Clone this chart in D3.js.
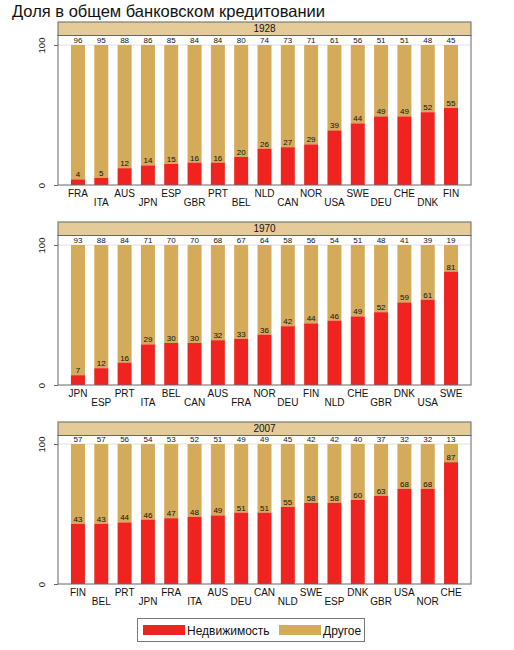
<!DOCTYPE html>
<html><head><meta charset="utf-8">
<script src="https://cdn.jsdelivr.net/npm/d3@7"></script>
<style>body{margin:0;background:#fff;} svg{display:block;font-family:"Liberation Sans",Arial,Helvetica,sans-serif;}</style>
</head><body>
<script>
const years = ["1928", "1970", "2007"];
const countries1928 = ["FRA","ITA","AUS","JPN","ESP","GBR","PRT","BEL","NLD","CAN","NOR","USA","SWE","DEU","CHE","DNK","FIN"];
const realEstate1928 = [4,5,12,14,15,16,16,20,26,27,29,39,44,49,49,52,55];
const other1928 = [96,95,88,86,85,84,84,80,74,73,71,61,56,51,51,48,45];
const countries1970 = ["JPN","ESP","PRT","ITA","BEL","CAN","AUS","FRA","NOR","DEU","FIN","NLD","CHE","GBR","DNK","USA","SWE"];
const realEstate1970 = [7,12,16,29,30,30,32,33,36,42,44,46,49,52,59,61,81];
const other1970 = [93,88,84,71,70,70,68,67,64,58,56,54,51,48,41,39,19];
const countries2007 = ["FIN","BEL","PRT","JPN","FRA","ITA","AUS","DEU","CAN","NLD","SWE","ESP","DNK","GBR","USA","NOR","CHE"];
const realEstate2007 = [43,43,44,46,47,48,49,51,51,55,58,58,60,63,68,68,87];
const other2007 = [57,57,56,54,53,52,51,49,49,45,42,42,40,37,32,32,13];
const yTicks = [0, 100];
const seriesNames = ["Недвижимость", "Другое"];
const title = "Доля в общем банковском кредитовании";

const panels = [
  {year: years[0], c: countries1928, re: realEstate1928, ot: other1928},
  {year: years[1], c: countries1970, re: realEstate1970, ot: other1970},
  {year: years[2], c: countries2007, re: realEstate2007, ot: other2007}
];

const RED = "#ef2320", TAN = "#d4aa5b", STRIP = "#e4cb97", FRAME = "#666";
const W = 514, H = 650;
const svg = d3.select("body").append("svg").attr("width", W).attr("height", H);

svg.append("text").attr("x", 12).attr("y", 17).attr("font-size", 16.5).attr("fill", "#111").text(title);

const left = 58, right = 471;
panels.forEach((p, i) => {
  const top = 22 + i * 200;
  const stripH = 13.5;
  const plotTop = top + stripH;
  const bottom = 185 + i * 200 - (i === 2 ? 1 : 0);
  const g = svg.append("g");
  const x = d3.scaleBand().domain(p.c).range([left + 8.3, right - 8.3]).paddingInner(0.4).paddingOuter(0.2);
  const y = d3.scaleLinear().domain([0, 100]).range([bottom, bottom - 140]);

  // strip
  g.append("rect").attr("x", left).attr("y", top).attr("width", right - left).attr("height", stripH)
    .attr("fill", STRIP).attr("stroke", FRAME).attr("stroke-width", 1);
  g.append("text").attr("x", (left + right) / 2).attr("y", top + stripH / 2 + 3.5)
    .attr("text-anchor", "middle").attr("font-size", 10).attr("fill", "#111").text(p.year);

  // gridline at 100
  g.append("line").attr("x1", left).attr("x2", right).attr("y1", y(100)).attr("y2", y(100))
    .attr("stroke", "#e2e2e2").attr("stroke-width", 1);

  const rows = p.c.map((c, k) => ({c, re: p.re[k], ot: p.ot[k], k}));
  const bw = x.bandwidth();
  g.selectAll(".ot").data(rows).enter().append("rect")
    .attr("x", d => x(d.c)).attr("width", bw)
    .attr("y", d => y(d.re + d.ot)).attr("height", d => y(d.re) - y(d.re + d.ot)).attr("fill", TAN);
  g.selectAll(".re").data(rows).enter().append("rect")
    .attr("x", d => x(d.c)).attr("width", bw)
    .attr("y", d => y(d.re)).attr("height", d => y(0) - y(d.re)).attr("fill", RED);
  g.selectAll(".lre").data(rows).enter().append("text")
    .attr("x", d => x(d.c) + bw / 2).attr("y", d => y(d.re) - 2)
    .attr("text-anchor", "middle").attr("font-size", 8).attr("fill", "#111").text(d => d.re);
  g.selectAll(".lot").data(rows).enter().append("text")
    .attr("x", d => x(d.c) + bw / 2).attr("y", d => y(d.re + d.ot) - 2)
    .attr("text-anchor", "middle").attr("font-size", 8).attr("fill", "#111").text(d => d.ot);

  // frame
  g.append("rect").attr("x", left).attr("y", plotTop).attr("width", right - left).attr("height", bottom - plotTop)
    .attr("fill", "none").attr("stroke", FRAME).attr("stroke-width", 1);

  // y axis
  const ya = g.append("g").attr("transform", `translate(${left},0)`)
    .call(d3.axisLeft(y).tickValues(yTicks).tickSize(4).tickFormat(d3.format("d")));
  ya.select(".domain").remove();
  ya.selectAll("line").attr("stroke", FRAME);
  ya.selectAll(".tick text")
    .attr("x", null).attr("y", null).attr("dy", "0.35em")
    .attr("font-size", 9.5).attr("fill", "#111").attr("text-anchor", "middle")
    .attr("transform", "translate(-16,0) rotate(-90)");

  // x labels staggered
  const xa = g.append("g").attr("transform", `translate(0,${bottom})`)
    .call(d3.axisBottom(x).tickSize(0).tickPadding(0));
  xa.select(".domain").remove();
  xa.selectAll("text").attr("font-size", 10).attr("fill", "#111")
    .attr("y", (d, k) => k % 2 === 0 ? 12 : 21).attr("dy", 0);
});

// legend
const lg = svg.append("g");
lg.append("rect").attr("x", 137.5).attr("y", 618.5).attr("width", 227).attr("height", 23)
  .attr("fill", "#fff").attr("stroke", "#777").attr("stroke-width", 1);
const legendItems = [{n: seriesNames[0], c: RED, x: 143}, {n: seriesNames[1], c: TAN, x: 279}];
legendItems.forEach(it => {
  lg.append("rect").attr("x", it.x).attr("y", 625).attr("width", 42).attr("height", 10).attr("fill", it.c);
  lg.append("text").attr("x", it.x + 44).attr("y", 635).attr("font-size", 12).attr("fill", "#111").text(it.n);
});
</script>
</body></html>
